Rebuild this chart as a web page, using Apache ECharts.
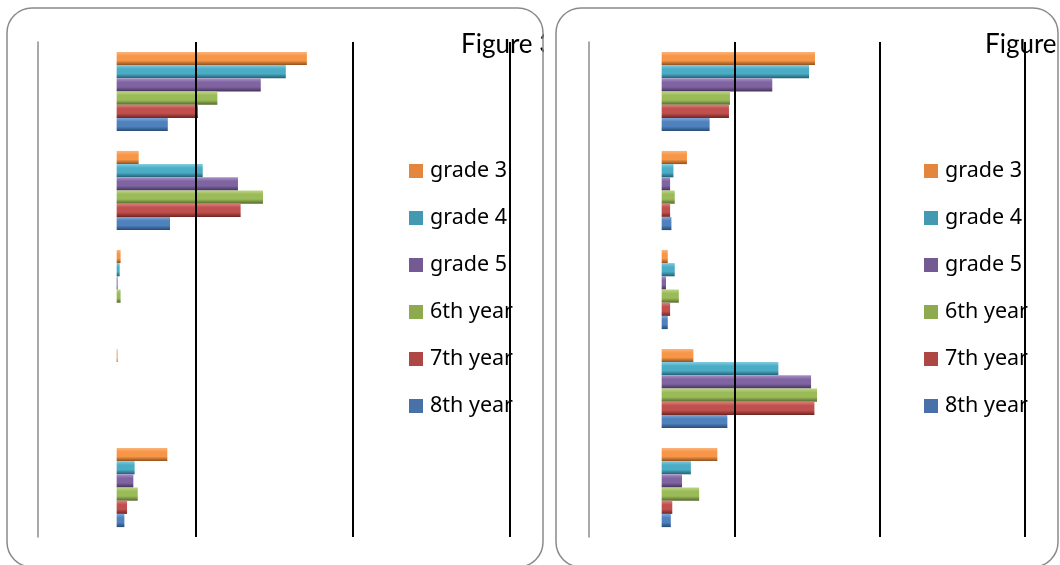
<!DOCTYPE html>
<html>
<head>
<meta charset="utf-8">
<script src="https://cdn.jsdelivr.net/npm/echarts@6/dist/echarts.min.js"></script>
<style>
html,body{margin:0;padding:0;background:#fff;}
#main{width:1060px;height:565px;}
</style>
</head>
<body>
<div id="main"></div>
<script>
// ---- data ----
var categories = ['Category 1', 'Category 2', 'Category 3', 'Category 4', 'Category 5'];
var seriesNames = ['grade 3', 'grade 4', 'grade 5', '6th year', '7th year', '8th year'];
var titleText = 'Figure 3';

// left panel values (one array per series, over the 5 categories)
var leftGrade3 = [120.9, 14.0, 2.5, 0.6, 32.2];
var leftGrade4 = [107.5, 54.7, 1.9, 0, 11.4];
var leftGrade5 = [91.6, 77.1, 0.6, 0, 10.6];
var leftYear6 = [64.0, 93.0, 2.5, 0, 13.4];
var leftYear7 = [51.7, 78.8, 0, 0, 6.6];
var leftYear8 = [32.5, 33.9, 0, 0, 4.9];

// right panel values
var rightGrade3 = [105.5, 17.4, 4.2, 21.8, 38.3];
var rightGrade4 = [101.4, 8.1, 9.0, 80.3, 20.1];
var rightGrade5 = [76.1, 5.8, 3.0, 102.8, 14.0];
var rightYear6 = [47.0, 9.0, 11.8, 106.9, 25.8];
var rightYear7 = [46.3, 5.8, 5.8, 105.1, 7.3];
var rightYear8 = [33.0, 6.7, 4.2, 45.2, 6.3];

var leftValues = [leftGrade3, leftGrade4, leftGrade5, leftYear6, leftYear7, leftYear8];
var rightValues = [rightGrade3, rightGrade4, rightGrade5, rightYear6, rightYear7, rightYear8];

// ---- styling ----
var baseColors = ['#F79646', '#4BACC6', '#8064A2', '#9BBB59', '#C0504D', '#4F81BD'];
var legendColors = ['#E4863D', '#4399B1', '#735A93', '#8EAA4E', '#AE4643', '#4771A8'];
var lightColors = ['#FBB57E', '#82CCDF', '#A891C6', '#BCD584', '#DB807D', '#80A8DA'];
var darkColors = ['#8E5020', '#225E70', '#43325A', '#56692D', '#6E2624', '#264A74'];

function barColor(i) {
  return new echarts.graphic.LinearGradient(0, 0, 0, 1, [
    {offset: 0, color: lightColors[i]},
    {offset: 0.3, color: baseColors[i]},
    {offset: 0.65, color: baseColors[i]},
    {offset: 1, color: darkColors[i]}
  ]);
}

var chart = echarts.init(document.getElementById('main'), null, {renderer: 'canvas'});

var grids = [
  {left: 38, width: 472, top: 42, height: 495},
  {left: 589, width: 436, top: 42, height: 495}
];

var xAxes = [];
var yAxes = [];
[0, 1].forEach(function (g) {
  // gridline axis
  xAxes.push({
    type: 'value', gridIndex: g, min: 0, max: 3, interval: 1, z: 10,
    axisLine: {show: false}, axisTick: {show: false}, axisLabel: {show: false},
    splitLine: {show: true, lineStyle: {color: ['rgba(0,0,0,0)', '#000', '#000', '#000'], width: 2}}
  });
  // bar value axis
  xAxes.push({
    type: 'value', gridIndex: g, min: -50, max: 250, show: false,
    splitLine: {show: false}
  });
  yAxes.push({
    type: 'category', gridIndex: g, data: categories, inverse: true, z: 10,
    axisLine: {show: true, onZero: false, lineStyle: {color: '#8c8c8c', width: 1.5}},
    axisTick: {show: false}, axisLabel: {show: false}, splitLine: {show: false}
  });
});

var series = [];
[leftValues, rightValues].forEach(function (vals, g) {
  seriesNames.forEach(function (name, i) {
    series.push({
      name: name, type: 'bar', xAxisIndex: g * 2 + 1, yAxisIndex: g,
      data: vals[i], barGap: '0%', barCategoryGap: '20%', z: 2,
      itemStyle: {color: barColor(i)},
      emphasis: {disabled: true}, silent: true
    });
  });
});

var legendData = seriesNames.map(function (n, i) {
  return {name: n, itemStyle: {color: legendColors[i]}};
});

function legend(left) {
  return {
    data: legendData, orient: 'vertical', left: left, top: 160, z: 1, padding: 0,
    icon: 'rect', itemWidth: 14, itemHeight: 14, itemGap: 25, selectedMode: false,
    textStyle: {fontFamily: 'Noto Sans', fontSize: 21.5, color: '#000', lineHeight: 20, padding: [0, 0, 0, 2]}
  };
}

var option = {
  animation: false,
  backgroundColor: '#fff',
  grid: grids,
  xAxis: xAxes,
  yAxis: yAxes,
  legend: [legend(409), legend(924)],
  series: series,
  graphic: [
    {type: 'text', z: 1, style: {text: titleText, x: 461, y: 45, font: '26px Lato', fill: '#000', textVerticalAlign: 'middle'}},
    {type: 'text', z: 1, style: {text: titleText, x: 985, y: 45, font: '26px Lato', fill: '#000', textVerticalAlign: 'middle'}},
    {type: 'rect', z: 50, shape: {x: 544, y: 15, width: 12, height: 60}, style: {fill: '#fff'}},
    {type: 'rect', z: 50, shape: {x: 1058, y: 15, width: 10, height: 60}, style: {fill: '#fff'}},
    {type: 'rect', z: 100, shape: {x: 7, y: 8, width: 536, height: 559, r: 25}, style: {fill: 'none', stroke: '#8a8a8a', lineWidth: 1.5}},
    {type: 'rect', z: 100, shape: {x: 556, y: 8, width: 502, height: 559, r: 25}, style: {fill: 'none', stroke: '#8a8a8a', lineWidth: 1.5}}
  ]
};
chart.setOption(option);
</script>
</body>
</html>
